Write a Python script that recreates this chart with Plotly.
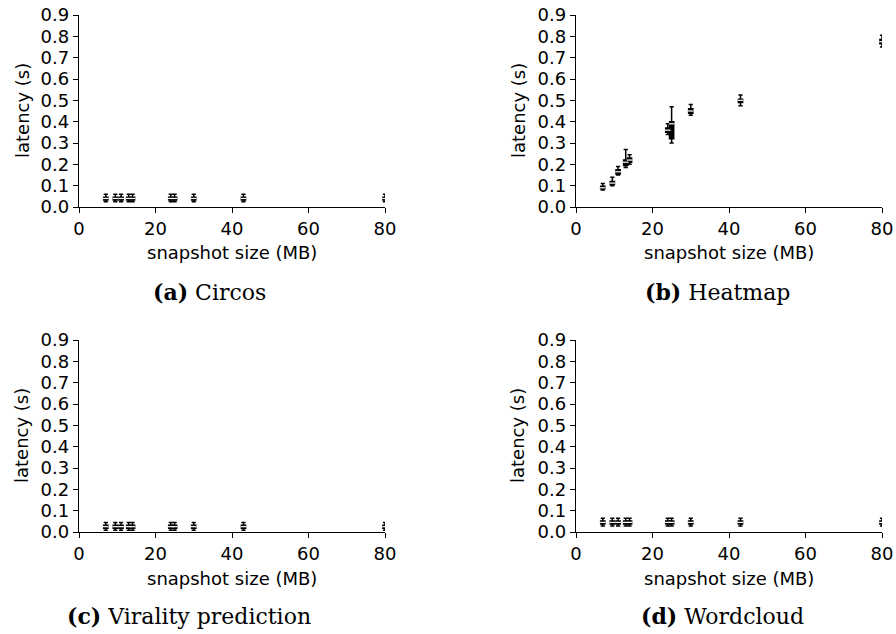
import plotly.graph_objects as go

# snapshot sizes (MB)
sizes = [7, 9.5, 11, 13, 14, 24, 25, 30, 43, 80]

# Circos latency box stats (s)
circos_lf = [0.025] * 10
circos_q1 = [0.033] * 10
circos_med = [0.040] * 10
circos_q3 = [0.046] * 10
circos_uf = [0.060] * 10

# Heatmap latency box stats (s)
heat_lf = [0.080, 0.100, 0.150, 0.185, 0.200, 0.340, 0.300, 0.430, 0.475, 0.750]
heat_q1 = [0.085, 0.105, 0.155, 0.195, 0.210, 0.350, 0.320, 0.440, 0.490, 0.765]
heat_med = [0.090, 0.112, 0.165, 0.210, 0.220, 0.360, 0.390, 0.450, 0.500, 0.775]
heat_q3 = [0.097, 0.120, 0.175, 0.220, 0.230, 0.370, 0.400, 0.460, 0.505, 0.785]
heat_uf = [0.110, 0.140, 0.190, 0.270, 0.245, 0.390, 0.470, 0.480, 0.525, 0.805]

# Virality prediction latency box stats (s)
vir_lf = [0.008] * 10
vir_q1 = [0.018] * 10
vir_med = [0.025] * 10
vir_q3 = [0.032] * 10
vir_uf = [0.045] * 10

# Wordcloud latency box stats (s)
word_lf = [0.028] * 10
word_q1 = [0.038] * 10
word_med = [0.045] * 10
word_q3 = [0.052] * 10
word_uf = [0.065] * 10

x_ticks = [0, 20, 40, 60, 80]
y_ticks = [0.0, 0.1, 0.2, 0.3, 0.4, 0.5, 0.6, 0.7, 0.8, 0.9]
captions = [("(a)", "Circos"), ("(b)", "Heatmap"), ("(c)", "Virality prediction"), ("(d)", "Wordcloud")]

panels = [
    (circos_lf, circos_q1, circos_med, circos_q3, circos_uf),
    (heat_lf, heat_q1, heat_med, heat_q3, heat_uf),
    (vir_lf, vir_q1, vir_med, vir_q3, vir_uf),
    (word_lf, word_q1, word_med, word_q3, word_uf),
]

W, H = 896, 634
xdoms = [(79 / W, 385 / W), (576 / W, 882 / W)]
ydoms = [(1 - 207 / H, 1 - 15 / H), (1 - 532 / H, 1 - 340 / H)]
ylab_x = [22, 518]
cap_x = [209, 717, 189, 722]
cap_y = [292, 292, 616, 616]

fig = go.Figure()
sans = dict(family="DejaVu Sans", size=18, color="black")

for i, (lf, q1, med, q3, uf) in enumerate(panels):
    n = "" if i == 0 else str(i + 1)
    fig.add_trace(go.Box(
        x=sizes, q1=q1, median=med, q3=q3, lowerfence=lf, upperfence=uf,
        width=1.1, whiskerwidth=1, boxpoints=False,
        fillcolor="black", line=dict(color="black", width=1.5),
        xaxis="x" + n, yaxis="y" + n, showlegend=False, hoverinfo="skip",
    ))
    fig.add_trace(go.Scatter(
        x=sizes, y=med, mode="markers",
        marker=dict(symbol="line-ew", size=4, line=dict(color="white", width=1.2)),
        xaxis="x" + n, yaxis="y" + n, showlegend=False, hoverinfo="skip",
    ))
    col, row = i % 2, i // 2
    axcommon = dict(showgrid=False, zeroline=False, showline=True, linecolor="black",
                    linewidth=1.3, ticks="outside", ticklen=5, tickwidth=1.2,
                    tickcolor="black", tickfont=sans, automargin=False)
    fig.update_layout(**{
        "xaxis" + n: dict(domain=list(xdoms[col]), range=[0, 80], tickvals=x_ticks,
                          anchor="y" + n, **axcommon),
        "yaxis" + n: dict(domain=list(ydoms[row]), range=[0, 0.9], tickvals=y_ticks,
                          tickformat=".1f", anchor="x" + n, **axcommon),
    })
    xc = (xdoms[col][0] + xdoms[col][1]) / 2
    ybot = ydoms[row][0]
    fig.add_annotation(text="snapshot size (MB)", x=xc, y=ybot - 46 / H, xref="paper", yref="paper",
                       showarrow=False, font=sans, xanchor="center", yanchor="middle")
    fig.add_annotation(text="latency (s)", x=ylab_x[col] / W, y=(ydoms[row][0] + ydoms[row][1]) / 2,
                       xref="paper", yref="paper", textangle=-90, showarrow=False,
                       font=sans, xanchor="center", yanchor="middle")
    lab, name = captions[i]
    fig.add_annotation(text="<b>" + lab + "</b> " + name, x=cap_x[i] / W, y=1 - cap_y[i] / H,
                       xref="paper", yref="paper", showarrow=False,
                       font=dict(family="DejaVu Serif", size=22, color="black"),
                       xanchor="center", yanchor="middle")

fig.update_layout(width=W, height=H,
                  margin=dict(l=0, r=0, t=0, b=0, pad=0, autoexpand=False),
                  paper_bgcolor="white", plot_bgcolor="white")
fig.write_html("out.html", config={"displayModeBar": False},
               post_script="document.body.style.margin='0';")
